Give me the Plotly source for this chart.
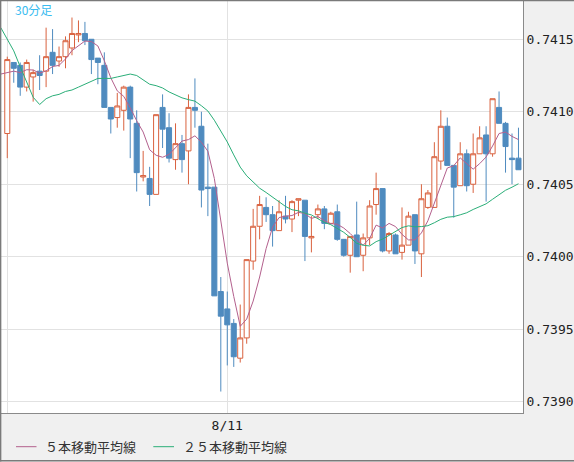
import plotly.graph_objects as go
import pandas as pd

# 30-minute candles (index 0..79); tick at index 34 = 8/11
opens = [0.74085, 0.74134, 0.74132, 0.74117, 0.74124, 0.74128, 0.74128, 0.74141, 0.74135, 0.74138,
         0.74144, 0.74153, 0.74154, 0.74150, 0.74137, 0.74132, 0.74103, 0.74096, 0.74101, 0.74117,
         0.74092, 0.74055, 0.74054, 0.74043, 0.74103, 0.74089, 0.74067, 0.74078, 0.74073, 0.74103,
         0.74090, 0.74048, 0.74048, 0.73976, 0.73964, 0.73954, 0.73930, 0.73944, 0.73997, 0.74021,
         0.74034, 0.74029, 0.74018, 0.74028, 0.74026, 0.74039, 0.74039, 0.74013, 0.74029, 0.74033,
         0.74023, 0.74031, 0.74012, 0.74001, 0.74015, 0.74001, 0.74013, 0.74036, 0.74047, 0.74004,
         0.74015, 0.74003, 0.74008, 0.74029, 0.74002, 0.74034, 0.74034, 0.74066, 0.74090, 0.74063,
         0.74049, 0.74071, 0.74050, 0.74071, 0.74084, 0.74071, 0.74103, 0.74092, 0.74068, 0.74068]
highs = [0.74138, 0.74134, 0.74134, 0.74136, 0.74129, 0.74139, 0.74158, 0.74157, 0.74145, 0.74152,
         0.74165, 0.74163, 0.74162, 0.74150, 0.74137, 0.74141, 0.74103, 0.74113, 0.74118, 0.74118,
         0.74101, 0.74073, 0.74062, 0.74098, 0.74112, 0.74099, 0.74092, 0.74084, 0.74112, 0.74123,
         0.74100, 0.74078, 0.74048, 0.73986, 0.73976, 0.73957, 0.73967, 0.73998, 0.74033, 0.74042,
         0.74041, 0.74035, 0.74039, 0.74042, 0.74039, 0.74040, 0.74039, 0.74028, 0.74036, 0.74035,
         0.74031, 0.74036, 0.74012, 0.74014, 0.74038, 0.74016, 0.74039, 0.74058, 0.74047, 0.74017,
         0.74016, 0.74034, 0.74031, 0.74029, 0.74050, 0.74046, 0.74079, 0.74101, 0.74096, 0.74063,
         0.74079, 0.74074, 0.74085, 0.74090, 0.74090, 0.74109, 0.74114, 0.74093, 0.74085, 0.74089]
lows = [0.74068, 0.74120, 0.74111, 0.74114, 0.74107, 0.74115, 0.74117, 0.74126, 0.74131, 0.74130,
        0.74139, 0.74148, 0.74146, 0.74126, 0.74119, 0.74103, 0.74085, 0.74089, 0.74087, 0.74068,
        0.74045, 0.74052, 0.74035, 0.74043, 0.74075, 0.74065, 0.74060, 0.74058, 0.74050, 0.74089,
        0.74034, 0.74028, 0.73973, 0.73907, 0.73925, 0.73924, 0.73927, 0.73940, 0.73991, 0.74012,
        0.74024, 0.74007, 0.74018, 0.74023, 0.74017, 0.74028, 0.73997, 0.74003, 0.74026, 0.74019,
        0.74023, 0.74011, 0.74000, 0.73989, 0.74000, 0.73990, 0.74008, 0.74029, 0.74003, 0.74002,
        0.74002, 0.73998, 0.74008, 0.73995, 0.73986, 0.74033, 0.74034, 0.74060, 0.74063, 0.74027,
        0.74049, 0.74045, 0.74044, 0.74071, 0.74038, 0.74069, 0.74092, 0.74058, 0.74050, 0.74060]
closes = [0.74136, 0.74130, 0.74117, 0.74134, 0.74127, 0.74125, 0.74138, 0.74132, 0.74138, 0.74149,
          0.74154, 0.74154, 0.74149, 0.74136, 0.74134, 0.74103, 0.74095, 0.74104, 0.74117, 0.74095,
          0.74058, 0.74056, 0.74043, 0.74098, 0.74088, 0.74068, 0.74078, 0.74067, 0.74103, 0.74101,
          0.74046, 0.74047, 0.73973, 0.73959, 0.73953, 0.73931, 0.73944, 0.73998, 0.74021, 0.74036,
          0.74029, 0.74018, 0.74031, 0.74026, 0.74038, 0.74040, 0.74014, 0.74014, 0.74033, 0.74023,
          0.74030, 0.74012, 0.74001, 0.74014, 0.74000, 0.74013, 0.74035, 0.74047, 0.74004, 0.74016,
          0.74002, 0.74008, 0.74028, 0.74004, 0.74040, 0.74044, 0.74069, 0.74090, 0.74063, 0.74048,
          0.74071, 0.74049, 0.74071, 0.74082, 0.74071, 0.74109, 0.74092, 0.74076, 0.74067, 0.74060]

# Moving-average values read from the chart where the window reaches before the first candle
# (index -1 onwards)
ma5_head = [0.74126, 0.74127, 0.74128, 0.74127, 0.74129]
ma25_head = [0.74158, 0.74150, 0.74142, 0.74131, 0.74120, 0.74110, 0.74105, 0.74109, 0.74111,
             0.74112, 0.74114, 0.74115, 0.74117, 0.74119, 0.74121, 0.74123, 0.74123, 0.74123,
             0.74124, 0.74125, 0.74126, 0.74125, 0.74122, 0.74119, 0.74118]

y_ticks = [0.7390, 0.7395, 0.7400, 0.7405, 0.7410, 0.7415]
x_ticks = [0, 34]
x_tick_labels = ["", "8/11"]
title_text = "30分足"
ma5_name = "５本移動平均線"
ma25_name = "２５本移動平均線"

idx = list(range(len(closes)))
cs = pd.Series(closes)
ma5_calc = cs.rolling(5).mean().tolist()
ma25_calc = cs.rolling(25).mean().tolist()
ma_x = [-1] + idx
ma5 = ma5_head + ma5_calc[4:]
ma25 = ma25_head + ma25_calc[24:]

UP = "#d9623f"
DOWN = "#4f8bbf"
C5 = "#b3608d"
C25 = "#2aae78"

fig = go.Figure()
fig.add_trace(go.Candlestick(
    x=idx, open=opens, high=highs, low=lows, close=closes,
    increasing=dict(line=dict(color=UP, width=1), fillcolor="#ffffff"),
    decreasing=dict(line=dict(color=DOWN, width=1), fillcolor=DOWN),
    whiskerwidth=0, showlegend=False, hoverinfo="skip",
))
fig.add_trace(go.Scatter(x=ma_x, y=ma5, mode="lines", name=ma5_name, showlegend=False,
                         line=dict(color=C5, width=1)))
fig.add_trace(go.Scatter(x=ma_x, y=ma25, mode="lines", name=ma25_name, showlegend=False,
                         line=dict(color=C25, width=1)))

W, H = 574, 462
ML, MR, MT, MB = 1, 51, 1, 49
pw, ph = W - ML - MR, H - MT - MB

def px(p):
    return (p - ML) / pw

def py(q):
    return (H - MB - q) / ph

frame = dict(color="#7a7a7a", width=1.5)
shapes = [
    dict(type="line", xref="paper", yref="paper", x0=px(0), x1=px(574), y0=py(0.6), y1=py(0.6), line=frame),
    dict(type="line", xref="paper", yref="paper", x0=px(0.6), x1=px(0.6), y0=py(0), y1=py(461.5), line=frame),
    dict(type="line", xref="paper", yref="paper", x0=px(0), x1=px(574), y0=py(460.8), y1=py(460.8), line=frame),
    # legend keys
    dict(type="line", xref="paper", yref="paper", x0=px(16), x1=px(36.5), y0=py(446.7), y1=py(446.7),
         line=dict(color=C5, width=1)),
    dict(type="line", xref="paper", yref="paper", x0=px(153.3), x1=px(174), y0=py(446.7), y1=py(446.7),
         line=dict(color=C25, width=1)),
]

legend_font = dict(family="Noto Sans CJK JP", size=13, color="#333333")
annotations = [
    dict(text=title_text, xref="paper", yref="paper", x=px(13), y=py(9.5),
         xanchor="left", yanchor="middle", showarrow=False,
         font=dict(family="Noto Sans CJK JP", size=12, color="#38bcf0")),
    dict(text=ma5_name, xref="paper", yref="paper", x=px(42.5), y=py(446),
         xanchor="left", yanchor="middle", showarrow=False, font=legend_font),
    dict(text=ma25_name, xref="paper", yref="paper", x=px(181), y=py(446),
         xanchor="left", yanchor="middle", showarrow=False, font=legend_font),
]

fig.update_layout(
    width=W, height=H,
    margin=dict(l=ML, r=MR, t=MT, b=MB, pad=0, autoexpand=False),
    paper_bgcolor="#f0f0f0", plot_bgcolor="#ffffff",
    boxgap=0.22, boxgroupgap=0,
    font=dict(family="DejaVu Sans Mono", size=13, color="#222222"),
    showlegend=False,
    shapes=shapes,
    annotations=annotations,
)
fig.update_xaxes(
    range=[-0.97, 79.7], tickvals=x_ticks, ticktext=x_tick_labels,
    showgrid=True, gridcolor="#e2e2e2", gridwidth=1, zeroline=False,
    showline=True, linecolor="#8a8a8a", linewidth=1, mirror=True,
    ticks="", ticklabelstandoff=0,
    rangeslider=dict(visible=False), fixedrange=True,
)
fig.update_yaxes(
    side="right", range=[0.738922, 0.741764], tickvals=y_ticks,
    ticktext=[f"{v:.4f}" for v in y_ticks],
    showgrid=True, gridcolor="#e2e2e2", gridwidth=1, zeroline=False,
    showline=True, linecolor="#8a8a8a", linewidth=1, mirror=True,
    ticks="", ticklabelstandoff=0, fixedrange=True,
)

fig.write_html("out.html", config={"displayModeBar": False},
               post_script="document.body.style.margin='0px';document.body.style.overflow='hidden';")
